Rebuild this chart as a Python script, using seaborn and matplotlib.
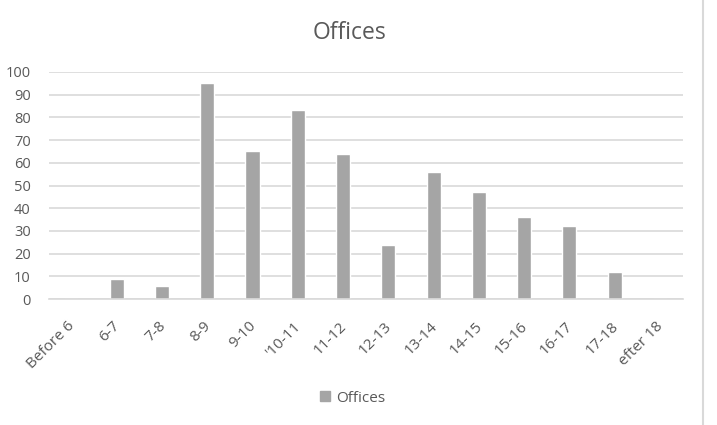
import pandas as pd
import matplotlib.pyplot as plt
import matplotlib.transforms as mtransforms
import seaborn as sns
from matplotlib.patches import Patch
from matplotlib.lines import Line2D

# data
hours = ["Before 6", "6-7", "7-8", "8-9", "9-10", "'10-11", "11-12", "12-13",
         "13-14", "14-15", "15-16", "16-17", "17-18", "efter 18"]
offices = [0, 9, 6, 95, 65, 83, 64, 24, 56, 47, 36, 32, 12, 0]

df = pd.DataFrame({"Hour": hours, "Offices": offices})

sns.set_style("white")
plt.rcParams['font.family'] = ['Open Sans', 'DejaVu Sans']

text_col = "#595959"
bar_col = "#A5A5A5"
grid_col = "#D9D9D9"

fig = plt.figure(figsize=(7.17, 4.25), dpi=100)
ax = fig.add_axes([0.068, 0.296, 0.884, 0.535])

sns.barplot(data=df, x="Hour", y="Offices", color=bar_col, width=0.31,
            saturation=1, ax=ax)

ax.set_ylim(0, 100)
ax.set_yticks(range(0, 101, 10))
ax.set_xlim(-0.5, len(hours) - 0.5)
ax.yaxis.grid(True, color=grid_col, linewidth=1.2)
ax.set_axisbelow(True)
for s in ["top", "right", "left"]:
    ax.spines[s].set_visible(False)
ax.spines["bottom"].set_color(grid_col)
ax.spines["bottom"].set_linewidth(1.2)

ax.set_xlabel("")
ax.set_ylabel("")
ax.tick_params(axis="both", length=0, colors=text_col, labelsize=10.5)
ax.tick_params(axis="x", labelsize=11, pad=14)
ax.tick_params(axis="y", pad=13)
# excel puts the rotated labels a touch left of the category centre
shift = mtransforms.ScaledTranslation(-4 / 100, 0, fig.dpi_scale_trans)
for lbl in ax.get_xticklabels():
    lbl.set_rotation(45)
    lbl.set_ha("right")
    lbl.set_rotation_mode("anchor")
    lbl.set_transform(lbl.get_transform() + shift)

fig.text(0.487, 0.922, "Offices", ha="center", va="center", fontsize=16.5, color=text_col)

fig.legend(handles=[Patch(color=bar_col, label="Offices")], loc="center",
           bbox_to_anchor=(0.492, 0.063), frameon=False, fontsize=11,
           labelcolor=text_col, handlelength=0.65, handleheight=0.65,
           handletextpad=0.4)

# chart border on the right side
fig.add_artist(Line2D([0.981, 0.981], [0, 1], color=grid_col, linewidth=1.5))

fig.savefig("out.png", dpi=100)
